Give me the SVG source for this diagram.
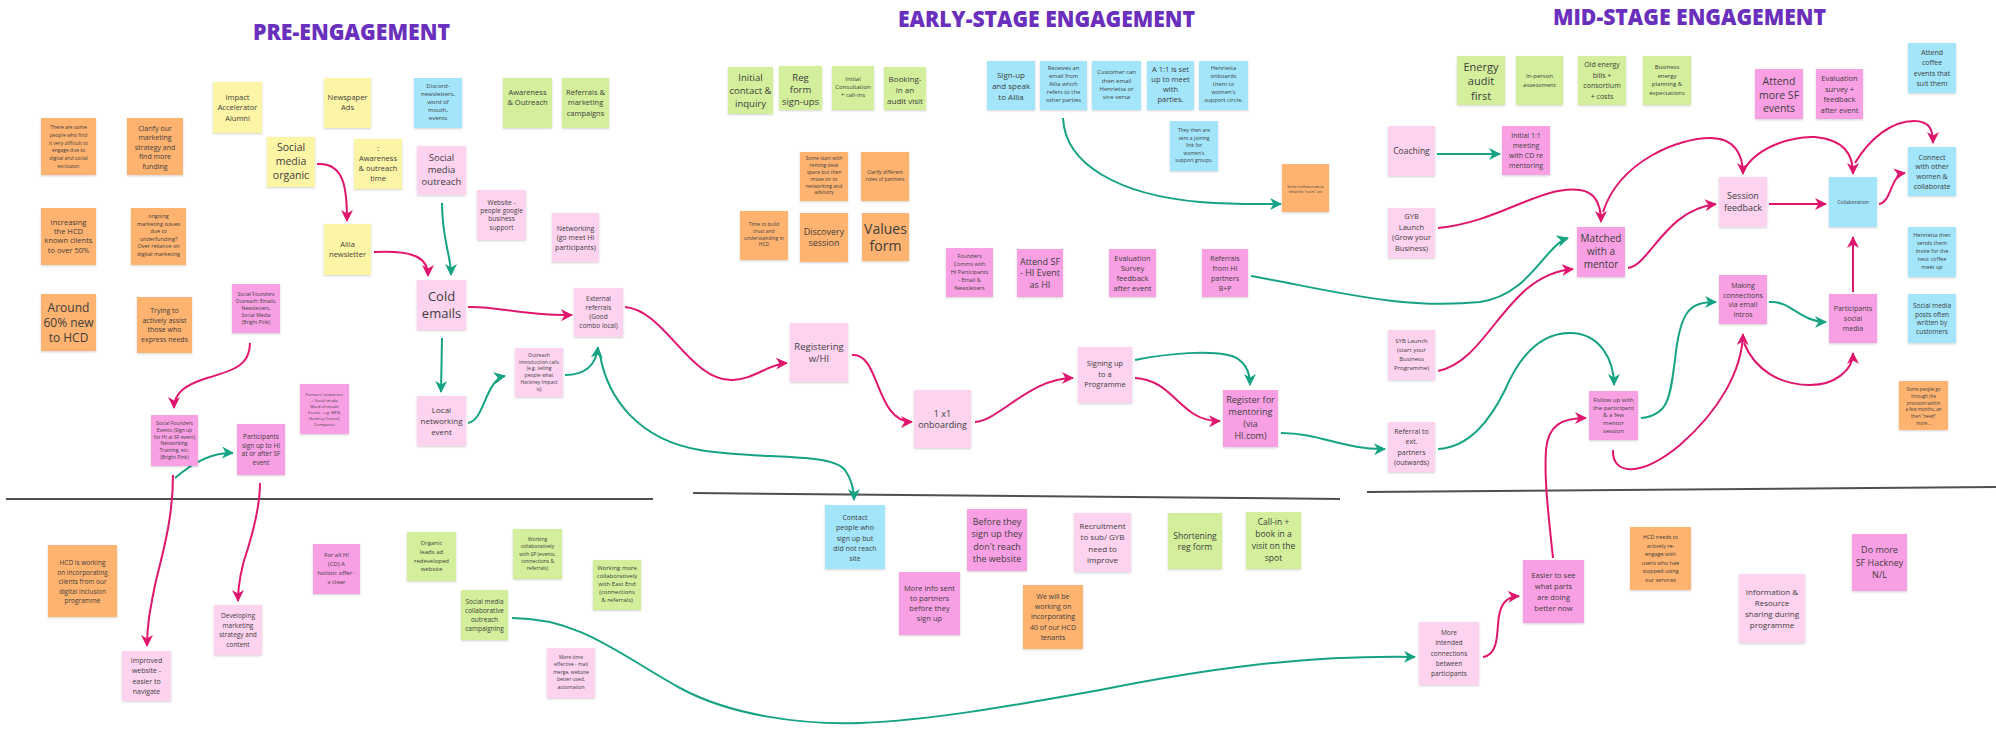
<svg xmlns="http://www.w3.org/2000/svg" width="1996" height="736" viewBox="0 0 1996 736">
<style>
  .yl{fill:#fdf5a6}.or{fill:#ffb36f}.gr{fill:#d3ef9b}.bl{fill:#a3e6fb}.lp{fill:#fdd3ef}.hp{fill:#f9a0e4}
  rect.n{filter:url(#sh)}
  .t{font-family:"Open Sans","Liberation Sans",sans-serif;fill:#3d3d3d;text-anchor:middle;dominant-baseline:central}
  .t tspan{dominant-baseline:central}
  .title{font-family:"Open Sans","Liberation Sans",sans-serif;font-weight:800;fill:#6a2fbc;font-size:23px}
  .cp{fill:none;stroke:#e0166e;stroke-width:2;marker-end:url(#ap)}
  .cg{fill:none;stroke:#16a383;stroke-width:2;marker-end:url(#ag)}
  .cgn{fill:none;stroke:#16a383;stroke-width:2}
  .div{stroke:#4f4f4f;stroke-width:2}
</style>
<defs>
  <filter id="sh" x="-10%" y="-10%" width="120%" height="130%">
    <feDropShadow dx="0" dy="1" stdDeviation="0.8" flood-color="#000" flood-opacity="0.18"/>
  </filter>
  <marker id="ap" viewBox="0 0 12 12" refX="11" refY="6" markerWidth="12" markerHeight="12" markerUnits="userSpaceOnUse" orient="auto">
    <path d="M0,0 L12,6 L0,12 L3.5,6 Z" fill="#e0166e"/>
  </marker>
  <marker id="ag" viewBox="0 0 12 12" refX="11" refY="6" markerWidth="12" markerHeight="12" markerUnits="userSpaceOnUse" orient="auto">
    <path d="M0,0 L12,6 L0,12 L3.5,6 Z" fill="#16a383"/>
  </marker>
</defs>
<rect width="1996" height="736" fill="#ffffff"/>

<!-- stage headings -->
<g id="headings">
  <text class="title" x="253" y="40" textLength="197" lengthAdjust="spacingAndGlyphs">PRE-ENGAGEMENT</text>
  <text class="title" x="898" y="27" textLength="297" lengthAdjust="spacingAndGlyphs">EARLY-STAGE ENGAGEMENT</text>
  <text class="title" x="1553" y="25" textLength="273" lengthAdjust="spacingAndGlyphs">MID-STAGE ENGAGEMENT</text>
</g>

<!-- dividers between journey and improvement areas -->
<g id="dividers">
  <line class="div" x1="6" y1="499" x2="653" y2="499"/>
  <line class="div" x1="693" y1="493" x2="1340" y2="499"/>
  <line class="div" x1="1367" y1="492" x2="1996" y2="487"/>
</g>

<!-- connectors -->
<g id="connectors">
  <path class="cp" d="M317,164 C345,162 347,190 347,221"/>
  <path class="cp" d="M374,252 C415,250 428,258 428,276"/>
  <path class="cp" d="M468,307 C500,306 520,316 572,315"/>
  <path class="cp" d="M625,307 C665,310 690,382 733,380 C755,379 768,364 787,363"/>
  <path class="cp" d="M852,355 C880,352 875,422 912,422"/>
  <path class="cp" d="M975,422 C1000,420 1030,378 1073,378"/>
  <path class="cp" d="M1135,378 C1175,380 1180,422 1220,421"/>
  <path class="cp" d="M1438,371 C1490,360 1505,275 1573,269"/>
  <path class="cp" d="M1438,228 C1500,222 1540,185 1580,190 C1595,192 1601,205 1601,222"/>
  <path class="cp" d="M1603,212 C1620,160 1680,138 1710,138 C1735,138 1743,155 1743,174"/>
  <path class="cp" d="M1745,168 C1760,145 1795,136 1815,137 C1845,140 1853,155 1853,174"/>
  <path class="cp" d="M1855,163 C1870,138 1892,121 1914,121 C1930,121 1933,130 1933,143"/>
  <path class="cp" d="M1769,204 L1826,204"/>
  <path class="cp" d="M1879,204 C1892,202 1890,175 1905,173"/>
  <path class="cp" d="M1628,268 C1650,265 1665,210 1716,204"/>
  <path class="cp" d="M1853,292 L1853,237"/>
  <path class="cp" d="M1613,450 C1612,475 1640,478 1680,445 C1720,410 1742,370 1743,334"/>
  <path class="cp" d="M1744,343 C1755,370 1780,385 1810,385 C1835,385 1853,370 1853,353"/>
  <path class="cp" d="M1553,558 C1549,520 1544,480 1546,450 C1548,425 1562,418 1586,418"/>
  <path class="cp" d="M1483,657 C1496,655 1497,640 1498,625 C1499,605 1505,597 1519,596"/>
  <path class="cp" d="M250,343 C250,365 235,370 207,378 C185,385 174,393 174,408"/>
  <path class="cp" d="M173,475 C173,520 162,555 155,585 C150,610 147,625 147,646"/>
  <path class="cp" d="M260,483 C260,505 255,525 248,548 C241,568 238,585 238,601"/>

  <path class="cg" d="M442,203 C442,240 451,255 451,275"/>
  <path class="cg" d="M442,338 L441,392"/>
  <path class="cg" d="M468,423 C485,420 485,380 505,376"/>
  <path class="cg" d="M565,375 C585,375 596,365 598,347"/>
  <path class="cg" d="M600,355 C608,400 640,440 700,450 C760,460 830,452 845,470 C852,480 854,490 854,500"/>
  <path class="cg" d="M1063,118 C1065,165 1120,195 1200,202 C1240,205 1260,204 1281,204"/>
  <path class="cg" d="M1437,154 L1500,154"/>
  <path class="cg" d="M1251,276 C1330,290 1400,310 1480,302 C1530,295 1545,245 1568,238"/>
  <path class="cg" d="M1135,360 C1170,353 1210,350 1232,356 C1248,362 1250,375 1250,385"/>
  <path class="cg" d="M1281,433 C1320,433 1345,450 1385,449"/>
  <path class="cg" d="M1438,449 C1470,447 1490,420 1505,390 C1520,355 1540,333 1570,333 C1600,333 1614,360 1614,385"/>
  <path class="cg" d="M1641,418 C1670,415 1670,395 1675,360 C1680,310 1690,302 1716,302"/>
  <path class="cg" d="M1769,302 C1790,300 1800,322 1826,322"/>
  <path class="cg" d="M175,478 C190,465 210,452 233,453"/>
  <path class="cg" d="M512,618 C580,618 620,655 680,688 C730,715 800,725 860,723 C930,720 1000,708 1100,690 C1200,670 1300,655 1415,657"/>
</g>

<!-- pre-engagement notes -->
<g id="n_exclusion"><rect class="n or" x="41" y="118" width="55" height="57"/><text class="t" font-size="5" y="127.3"><tspan x="68.5" dy="0">There are some</tspan><tspan x="68.5" dy="7.7">people who find</tspan><tspan x="68.5" dy="7.7">it very difficult to</tspan><tspan x="68.5" dy="7.7">engage due to</tspan><tspan x="68.5" dy="7.7">digital and social</tspan><tspan x="68.5" dy="7.7">exclusion</tspan></text></g>
<g id="n_clarify"><rect class="n or" x="127" y="118" width="56" height="57"/><text class="t" font-size="7" y="127.7"><tspan x="155" dy="0">Clarify our</tspan><tspan x="155" dy="9.5">marketing</tspan><tspan x="155" dy="9.5">strategy and</tspan><tspan x="155" dy="9.5">find more</tspan><tspan x="155" dy="9.5">funding</tspan></text></g>
<g id="n_impact"><rect class="n yl" x="213" y="82" width="49" height="51"/><text class="t" font-size="7.5" y="96.7"><tspan x="237.5" dy="0">Impact</tspan><tspan x="237.5" dy="10.4">Accelerator</tspan><tspan x="237.5" dy="10.4">Alumni</tspan></text></g>
<g id="n_newspaper"><rect class="n yl" x="324" y="78" width="47" height="50"/><text class="t" font-size="7.5" y="96.7"><tspan x="347.5" dy="0">Newspaper</tspan><tspan x="347.5" dy="10">Ads</tspan></text></g>
<g id="n_discord"><rect class="n bl" x="414" y="78" width="48" height="50"/><text class="t" font-size="6" y="86"><tspan x="438" dy="0">Discord-</tspan><tspan x="438" dy="8.1">newsletters,</tspan><tspan x="438" dy="8.1">word of</tspan><tspan x="438" dy="8.1">mouth,</tspan><tspan x="438" dy="8.1">events</tspan></text></g>
<g id="n_sm_organic"><rect class="n yl" x="267" y="137" width="48" height="50"/><text class="t" font-size="10.5" y="146.7"><tspan x="291" dy="0">Social</tspan><tspan x="291" dy="14">media</tspan><tspan x="291" dy="14">organic</tspan></text></g>
<g id="n_awareness_time"><rect class="n yl" x="354" y="139" width="48" height="50"/><text class="t" font-size="7.5" y="148"><tspan x="378" dy="0">:</tspan><tspan x="378" dy="10">Awareness</tspan><tspan x="378" dy="10">&amp; outreach</tspan><tspan x="378" dy="10">time</tspan></text></g>
<g id="n_sm_outreach"><rect class="n lp" x="417" y="146" width="49" height="49"/><text class="t" font-size="9.5" y="157.3"><tspan x="441.5" dy="0">Social</tspan><tspan x="441.5" dy="12">media</tspan><tspan x="441.5" dy="12">outreach</tspan></text></g>
<g id="n_website"><rect class="n lp" x="477" y="190" width="49" height="50"/><text class="t" font-size="6.5" y="201.7"><tspan x="501.5" dy="0">Website -</tspan><tspan x="501.5" dy="8.3">people google</tspan><tspan x="501.5" dy="8.3">business</tspan><tspan x="501.5" dy="8.3">support</tspan></text></g>
<g id="n_increasing"><rect class="n or" x="41" y="208" width="55" height="57"/><text class="t" font-size="7.5" y="221.7"><tspan x="68.5" dy="0">Increasing</tspan><tspan x="68.5" dy="9.3">the HCD</tspan><tspan x="68.5" dy="9.3">known clients</tspan><tspan x="68.5" dy="9.3">to over 50%</tspan></text></g>
<g id="n_ongoing"><rect class="n or" x="131" y="208" width="55" height="57"/><text class="t" font-size="5.5" y="216"><tspan x="158.5" dy="0">ongoing</tspan><tspan x="158.5" dy="7.6">marketing issues</tspan><tspan x="158.5" dy="7.6">due to</tspan><tspan x="158.5" dy="7.6">underfunding?</tspan><tspan x="158.5" dy="7.6">Over reliance on</tspan><tspan x="158.5" dy="7.6">digital marketing</tspan></text></g>
<g id="n_allia"><rect class="n yl" x="324" y="224" width="47" height="51"/><text class="t" font-size="7.5" y="244"><tspan x="347.5" dy="0">Allia</tspan><tspan x="347.5" dy="9.5">newsletter</tspan></text></g>
<g id="n_awareness_outreach"><rect class="n gr" x="503" y="78" width="49" height="50"/><text class="t" font-size="7.5" y="91.7"><tspan x="527.5" dy="0">Awareness</tspan><tspan x="527.5" dy="10">&amp; Outreach</tspan></text></g>
<g id="n_referrals_campaigns"><rect class="n gr" x="562" y="78" width="47" height="50"/><text class="t" font-size="7.5" y="91.7"><tspan x="585.5" dy="0">Referrals &amp;</tspan><tspan x="585.5" dy="10.5">marketing</tspan><tspan x="585.5" dy="10.5">campaigns</tspan></text></g>
<g id="n_networking"><rect class="n lp" x="552" y="213" width="47" height="49"/><text class="t" font-size="7" y="227.7"><tspan x="575.5" dy="0">Networking</tspan><tspan x="575.5" dy="9.5">(go meet HI</tspan><tspan x="575.5" dy="9.5">participants)</tspan></text></g>
<g id="n_around60"><rect class="n or" x="41" y="294" width="55" height="57"/><text class="t" font-size="12" y="307.3"><tspan x="68.5" dy="0">Around</tspan><tspan x="68.5" dy="15">60% new</tspan><tspan x="68.5" dy="15">to HCD</tspan></text></g>
<g id="n_trying"><rect class="n or" x="137" y="297" width="55" height="56"/><text class="t" font-size="7" y="310"><tspan x="164.5" dy="0">Trying to</tspan><tspan x="164.5" dy="9.6">actively assist</tspan><tspan x="164.5" dy="9.6">those who</tspan><tspan x="164.5" dy="9.6">express needs</tspan></text></g>
<g id="n_sf_outreach"><rect class="n hp" x="232" y="284" width="48" height="49"/><text class="t" font-size="5" y="294.3"><tspan x="256" dy="0">Social Founders</tspan><tspan x="256" dy="6.9">Outreach: Emails,</tspan><tspan x="256" dy="6.9">Newsletters,</tspan><tspan x="256" dy="6.9">Social Media</tspan><tspan x="256" dy="6.9">(Bright Pink)</tspan></text></g>
<g id="n_cold_emails"><rect class="n lp" x="417" y="280" width="49" height="50"/><text class="t" font-size="13" y="296"><tspan x="441.5" dy="0">Cold</tspan><tspan x="441.5" dy="17">emails</tspan></text></g>
<g id="n_sf_events"><rect class="n hp" x="151" y="415" width="47" height="51"/><text class="t" font-size="5" y="423.3"><tspan x="174.5" dy="0">Social Founders</tspan><tspan x="174.5" dy="6.7">Events (Sign up</tspan><tspan x="174.5" dy="6.7">for HI at SF event)</tspan><tspan x="174.5" dy="6.7">Networking,</tspan><tspan x="174.5" dy="6.7">Training, etc.</tspan><tspan x="174.5" dy="6.7">(Bright Pink)</tspan></text></g>
<g id="n_participants_signup"><rect class="n hp" x="237" y="424" width="48" height="51"/><text class="t" font-size="6.5" y="436"><tspan x="261" dy="0">Participants</tspan><tspan x="261" dy="8.7">sign up to HI</tspan><tspan x="261" dy="8.7">at or after SF</tspan><tspan x="261" dy="8.7">event</tspan></text></g>
<g id="n_partners_newsletter"><rect class="n hp" x="300" y="384" width="49" height="50"/><text class="t" font-size="4" y="394.3"><tspan x="324.5" dy="0">Partners' newsletter</tspan><tspan x="324.5" dy="6">+ Social media</tspan><tspan x="324.5" dy="6">Word of mouth</tspan><tspan x="324.5" dy="6">Events - e.g. WEN,</tspan><tspan x="324.5" dy="6">Hackney Council,</tspan><tspan x="324.5" dy="6">Companies</tspan></text></g>
<g id="n_local_networking"><rect class="n lp" x="417" y="396" width="49" height="50"/><text class="t" font-size="8" y="409.3"><tspan x="441.5" dy="0">Local</tspan><tspan x="441.5" dy="10.7">networking</tspan><tspan x="441.5" dy="10.7">event</tspan></text></g>
<g id="n_external_referrals"><rect class="n lp" x="574" y="288" width="49" height="49"/><text class="t" font-size="6.5" y="297.7"><tspan x="598.5" dy="0">External</tspan><tspan x="598.5" dy="9">referrals</tspan><tspan x="598.5" dy="9">(Good</tspan><tspan x="598.5" dy="9">combo local)</tspan></text></g>
<g id="n_outreach_calls"><rect class="n lp" x="515" y="348" width="48" height="49"/><text class="t" font-size="5" y="355"><tspan x="539" dy="0">Outreach</tspan><tspan x="539" dy="6.7">introduction calls</tspan><tspan x="539" dy="6.7">(e.g. telling</tspan><tspan x="539" dy="6.7">people what</tspan><tspan x="539" dy="6.7">Hackney Impact</tspan><tspan x="539" dy="6.7">is)</tspan></text></g>

<!-- pre-engagement improvements -->
<g id="n_hcd_working"><rect class="n or" x="48" y="545" width="69" height="72"/><text class="t" font-size="6.5" y="562"><tspan x="82.5" dy="0">HCD is working</tspan><tspan x="82.5" dy="9.5">on incorporating</tspan><tspan x="82.5" dy="9.5">clients from our</tspan><tspan x="82.5" dy="9.5">digital inclusion</tspan><tspan x="82.5" dy="9.5">programme</tspan></text></g>
<g id="n_improved_website"><rect class="n lp" x="122" y="651" width="49" height="50"/><text class="t" font-size="7" y="660"><tspan x="146.5" dy="0">Improved</tspan><tspan x="146.5" dy="10.3">website -</tspan><tspan x="146.5" dy="10.3">easier to</tspan><tspan x="146.5" dy="10.3">navigate</tspan></text></g>
<g id="n_developing"><rect class="n lp" x="214" y="605" width="48" height="50"/><text class="t" font-size="6.5" y="615.3"><tspan x="238" dy="0">Developing</tspan><tspan x="238" dy="9.5">marketing</tspan><tspan x="238" dy="9.5">strategy and</tspan><tspan x="238" dy="9.5">content</tspan></text></g>
<g id="n_for_all"><rect class="n hp" x="313" y="544" width="47" height="50"/><text class="t" font-size="6" y="555.3"><tspan x="336.5" dy="0">For all HI</tspan><tspan x="336.5" dy="8.8">(CD) A</tspan><tspan x="336.5" dy="8.8">holistic offer -</tspan><tspan x="336.5" dy="8.8">v clear</tspan></text></g>
<g id="n_organic_leads"><rect class="n gr" x="407" y="532" width="49" height="49"/><text class="t" font-size="6" y="543.3"><tspan x="431.5" dy="0">Organic</tspan><tspan x="431.5" dy="8.7">leads ad</tspan><tspan x="431.5" dy="8.7">redeveloped</tspan><tspan x="431.5" dy="8.7">website</tspan></text></g>
<g id="n_sm_collab"><rect class="n gr" x="461" y="590" width="47" height="50"/><text class="t" font-size="6.5" y="601"><tspan x="484.5" dy="0">Social media</tspan><tspan x="484.5" dy="9">collaborative</tspan><tspan x="484.5" dy="9">outreach</tspan><tspan x="484.5" dy="9">campaigning</tspan></text></g>
<g id="n_working_sp"><rect class="n gr" x="513" y="529" width="49" height="50"/><text class="t" font-size="5" y="538.7"><tspan x="537.5" dy="0">Working</tspan><tspan x="537.5" dy="7.4">collaboratively</tspan><tspan x="537.5" dy="7.4">with SP (events,</tspan><tspan x="537.5" dy="7.4">connections &amp;</tspan><tspan x="537.5" dy="7.4">referrals)</tspan></text></g>
<g id="n_working_ee"><rect class="n gr" x="593" y="560" width="48" height="50"/><text class="t" font-size="6" y="568"><tspan x="617" dy="0">Working more</tspan><tspan x="617" dy="8">collaboratively</tspan><tspan x="617" dy="8">with East End</tspan><tspan x="617" dy="8">(connections</tspan><tspan x="617" dy="8">&amp; referrals)</tspan></text></g>
<g id="n_time_effective"><rect class="n lp" x="547" y="648" width="48" height="50"/><text class="t" font-size="5" y="656.7"><tspan x="571" dy="0">More time</tspan><tspan x="571" dy="7.5">effective - mail</tspan><tspan x="571" dy="7.5">merge, website</tspan><tspan x="571" dy="7.5">better used,</tspan><tspan x="571" dy="7.5">automation</tspan></text></g>

<!-- early-stage notes -->
<g id="n_initial_contact"><rect class="n gr" x="728" y="67" width="45" height="47"/><text class="t" font-size="9.5" y="77.3"><tspan x="750.5" dy="0">Initial</tspan><tspan x="750.5" dy="12.7">contact &amp;</tspan><tspan x="750.5" dy="12.7">inquiry</tspan></text></g>
<g id="n_reg_form"><rect class="n gr" x="779" y="66" width="43" height="44"/><text class="t" font-size="9.5" y="76.7"><tspan x="800.5" dy="0">Reg</tspan><tspan x="800.5" dy="12.3">form</tspan><tspan x="800.5" dy="12.3">sign-ups</tspan></text></g>
<g id="n_initial_consult"><rect class="n gr" x="832" y="66" width="42" height="44"/><text class="t" font-size="6" y="79.3"><tspan x="853" dy="0">Initial</tspan><tspan x="853" dy="8">Consultation</tspan><tspan x="853" dy="8">+ call-ins</tspan></text></g>
<g id="n_booking"><rect class="n gr" x="884" y="67" width="42" height="43"/><text class="t" font-size="8" y="78.3"><tspan x="905" dy="0">Booking-</tspan><tspan x="905" dy="10.7">in an</tspan><tspan x="905" dy="10.7">audit visit</tspan></text></g>
<g id="n_some_start"><rect class="n or" x="800" y="152" width="48" height="49"/><text class="t" font-size="5" y="158.3"><tspan x="824" dy="0">Some start with</tspan><tspan x="824" dy="6.8">renting desk</tspan><tspan x="824" dy="6.8">space but then</tspan><tspan x="824" dy="6.8">move on to</tspan><tspan x="824" dy="6.8">networking and</tspan><tspan x="824" dy="6.8">advisory</tspan></text></g>
<g id="n_clarify_roles"><rect class="n or" x="861" y="152" width="48" height="49"/><text class="t" font-size="5" y="172.3"><tspan x="885" dy="0">Clarify different</tspan><tspan x="885" dy="6.7">roles of partners</tspan></text></g>
<g id="n_time_trust"><rect class="n or" x="740" y="211" width="48" height="49"/><text class="t" font-size="5" y="224.3"><tspan x="764" dy="0">Time to build</tspan><tspan x="764" dy="6.7">trust and</tspan><tspan x="764" dy="6.7">understanding in</tspan><tspan x="764" dy="6.7">HCD</tspan></text></g>
<g id="n_discovery"><rect class="n or" x="800" y="213" width="48" height="49"/><text class="t" font-size="9" y="231"><tspan x="824" dy="0">Discovery</tspan><tspan x="824" dy="11.3">session</tspan></text></g>
<g id="n_values"><rect class="n or" x="862" y="213" width="47" height="48"/><text class="t" font-size="14" y="227.7"><tspan x="885.5" dy="0">Values</tspan><tspan x="885.5" dy="17">form</tspan></text></g>
<g id="n_signup_allia"><rect class="n bl" x="987" y="61" width="48" height="49"/><text class="t" font-size="8" y="74"><tspan x="1011" dy="0">Sign-up</tspan><tspan x="1011" dy="10.8">and speak</tspan><tspan x="1011" dy="10.8">to Allia</tspan></text></g>
<g id="n_receives_email"><rect class="n bl" x="1040" y="61" width="47" height="49"/><text class="t" font-size="5.8" y="68.3"><tspan x="1063.5" dy="0">Receives an</tspan><tspan x="1063.5" dy="8">email from</tspan><tspan x="1063.5" dy="8">Allia which</tspan><tspan x="1063.5" dy="8">refers to the</tspan><tspan x="1063.5" dy="8">other parties</tspan></text></g>
<g id="n_customer_email"><rect class="n bl" x="1092" y="61" width="49" height="49"/><text class="t" font-size="6" y="72.3"><tspan x="1116.5" dy="0">Customer can</tspan><tspan x="1116.5" dy="8.3">then email</tspan><tspan x="1116.5" dy="8.3">Henrietta or</tspan><tspan x="1116.5" dy="8.3">vice versa</tspan></text></g>
<g id="n_one_to_one"><rect class="n bl" x="1147" y="61" width="47" height="49"/><text class="t" font-size="7.5" y="69.3"><tspan x="1170.5" dy="0">A 1:1 is set</tspan><tspan x="1170.5" dy="10">up to meet</tspan><tspan x="1170.5" dy="10">with</tspan><tspan x="1170.5" dy="10">parties.</tspan></text></g>
<g id="n_henrietta_onboards"><rect class="n bl" x="1199" y="61" width="49" height="49"/><text class="t" font-size="5.8" y="68.3"><tspan x="1223.5" dy="0">Henrietta</tspan><tspan x="1223.5" dy="8">onboards</tspan><tspan x="1223.5" dy="8">them to</tspan><tspan x="1223.5" dy="8">women's</tspan><tspan x="1223.5" dy="8">support circle.</tspan></text></g>
<g id="n_joining_link"><rect class="n bl" x="1170" y="121" width="48" height="50"/><text class="t" font-size="5" y="130"><tspan x="1194" dy="0">They then are</tspan><tspan x="1194" dy="7.5">sent a joining</tspan><tspan x="1194" dy="7.5">link for</tspan><tspan x="1194" dy="7.5">women's</tspan><tspan x="1194" dy="7.5">support groups.</tspan></text></g>
<g id="n_confusion"><rect class="n or" x="1282" y="164" width="47" height="48"/><text class="t" font-size="3.5" y="185.5"><tspan x="1305.5" dy="0">Some confusion about</tspan><tspan x="1305.5" dy="5">what the "room" are</tspan></text></g>
<g id="n_founders_comms"><rect class="n hp" x="946" y="248" width="47" height="49"/><text class="t" font-size="5.5" y="255.7"><tspan x="969.5" dy="0">Founders</tspan><tspan x="969.5" dy="8">Comms with</tspan><tspan x="969.5" dy="8">HI Participants</tspan><tspan x="969.5" dy="8">- Email &amp;</tspan><tspan x="969.5" dy="8">Newsletters</tspan></text></g>
<g id="n_registering"><rect class="n lp" x="790" y="323" width="58" height="59"/><text class="t" font-size="9.5" y="345.7"><tspan x="819" dy="0">Registering</tspan><tspan x="819" dy="12.7">w/HI</tspan></text></g>
<g id="n_onboarding"><rect class="n lp" x="914" y="390" width="57" height="58"/><text class="t" font-size="9" y="412.7"><tspan x="942.5" dy="0">1 x1</tspan><tspan x="942.5" dy="11.3">onboarding</tspan></text></g>
<g id="n_attend_sf_hi"><rect class="n hp" x="1017" y="249" width="46" height="48"/><text class="t" font-size="9" y="260.7"><tspan x="1040" dy="0">Attend SF</tspan><tspan x="1040" dy="11.7">- HI Event</tspan><tspan x="1040" dy="11.7">as HI</tspan></text></g>
<g id="n_eval_survey_early"><rect class="n hp" x="1109" y="249" width="47" height="48"/><text class="t" font-size="7.5" y="257.7"><tspan x="1132.5" dy="0">Evaluation</tspan><tspan x="1132.5" dy="10">Survey</tspan><tspan x="1132.5" dy="10">feedback</tspan><tspan x="1132.5" dy="10">after event</tspan></text></g>
<g id="n_referrals_hi"><rect class="n hp" x="1202" y="249" width="46" height="48"/><text class="t" font-size="7" y="257.7"><tspan x="1225" dy="0">Referrals</tspan><tspan x="1225" dy="10">from HI</tspan><tspan x="1225" dy="10">partners</tspan><tspan x="1225" dy="10">B+P</tspan></text></g>
<g id="n_signing_up"><rect class="n lp" x="1078" y="347" width="54" height="56"/><text class="t" font-size="7.5" y="363.3"><tspan x="1105" dy="0">Signing up</tspan><tspan x="1105" dy="10.5">to a</tspan><tspan x="1105" dy="10.5">Programme</tspan></text></g>
<g id="n_register_mentoring"><rect class="n hp" x="1223" y="390" width="55" height="57"/><text class="t" font-size="9" y="399"><tspan x="1250.5" dy="0">Register for</tspan><tspan x="1250.5" dy="12">mentoring</tspan><tspan x="1250.5" dy="12">(via</tspan><tspan x="1250.5" dy="12">HI.com)</tspan></text></g>

<!-- early-stage improvements -->
<g id="n_contact_people"><rect class="n bl" x="825" y="505" width="60" height="64"/><text class="t" font-size="7" y="516.7"><tspan x="855" dy="0">Contact</tspan><tspan x="855" dy="10.4">people who</tspan><tspan x="855" dy="10.4">sign up but</tspan><tspan x="855" dy="10.4">did not reach</tspan><tspan x="855" dy="10.4">site</tspan></text></g>
<g id="n_more_info"><rect class="n hp" x="899" y="572" width="61" height="63"/><text class="t" font-size="7.5" y="587.7"><tspan x="929.5" dy="0">More info sent</tspan><tspan x="929.5" dy="10">to partners</tspan><tspan x="929.5" dy="10">before they</tspan><tspan x="929.5" dy="10">sign up</tspan></text></g>
<g id="n_before_they"><rect class="n hp" x="967" y="509" width="60" height="62"/><text class="t" font-size="9" y="521"><tspan x="997" dy="0">Before they</tspan><tspan x="997" dy="12.3">sign up they</tspan><tspan x="997" dy="12.3">don't reach</tspan><tspan x="997" dy="12.3">the website</tspan></text></g>
<g id="n_recruitment"><rect class="n lp" x="1074" y="513" width="57" height="59"/><text class="t" font-size="8" y="525"><tspan x="1102.5" dy="0">Recruitment</tspan><tspan x="1102.5" dy="11.3">to sub/ GYB</tspan><tspan x="1102.5" dy="11.3">need to</tspan><tspan x="1102.5" dy="11.3">improve</tspan></text></g>
<g id="n_shortening"><rect class="n gr" x="1168" y="513" width="54" height="56"/><text class="t" font-size="8.5" y="535"><tspan x="1195" dy="0">Shortening</tspan><tspan x="1195" dy="11">reg form</tspan></text></g>
<g id="n_call_in"><rect class="n gr" x="1246" y="512" width="55" height="57"/><text class="t" font-size="8.5" y="521"><tspan x="1273.5" dy="0">Call-in +</tspan><tspan x="1273.5" dy="12">book in a</tspan><tspan x="1273.5" dy="12">visit on the</tspan><tspan x="1273.5" dy="12">spot</tspan></text></g>
<g id="n_we_will"><rect class="n or" x="1023" y="585" width="60" height="64"/><text class="t" font-size="7" y="596"><tspan x="1053" dy="0">We will be</tspan><tspan x="1053" dy="10.2">working on</tspan><tspan x="1053" dy="10.2">incorporating</tspan><tspan x="1053" dy="10.2">40 of our HCD</tspan><tspan x="1053" dy="10.2">tenants</tspan></text></g>

<!-- mid-stage notes -->
<g id="n_energy_audit"><rect class="n gr" x="1457" y="56" width="48" height="49"/><text class="t" font-size="11" y="65.7"><tspan x="1481" dy="0">Energy</tspan><tspan x="1481" dy="14.7">audit</tspan><tspan x="1481" dy="14.7">first</tspan></text></g>
<g id="n_in_person"><rect class="n gr" x="1516" y="56" width="47" height="49"/><text class="t" font-size="6" y="76"><tspan x="1539.5" dy="0">In-person</tspan><tspan x="1539.5" dy="8.7">assessment</tspan></text></g>
<g id="n_old_energy"><rect class="n gr" x="1578" y="56" width="48" height="49"/><text class="t" font-size="7" y="64.3"><tspan x="1602" dy="0">Old energy</tspan><tspan x="1602" dy="10.5">bills +</tspan><tspan x="1602" dy="10.5">consortium</tspan><tspan x="1602" dy="10.5">+ costs</tspan></text></g>
<g id="n_business_energy"><rect class="n gr" x="1643" y="56" width="48" height="49"/><text class="t" font-size="6" y="66.7"><tspan x="1667" dy="0">Business</tspan><tspan x="1667" dy="8.8">energy</tspan><tspan x="1667" dy="8.8">planning &amp;</tspan><tspan x="1667" dy="8.8">expectations</tspan></text></g>
<g id="n_attend_more_sf"><rect class="n hp" x="1755" y="69" width="48" height="50"/><text class="t" font-size="10.5" y="81"><tspan x="1779" dy="0">Attend</tspan><tspan x="1779" dy="13.7">more SF</tspan><tspan x="1779" dy="13.7">events</tspan></text></g>
<g id="n_eval_survey_mid"><rect class="n hp" x="1816" y="69" width="47" height="50"/><text class="t" font-size="7.5" y="78"><tspan x="1839.5" dy="0">Evaluation</tspan><tspan x="1839.5" dy="10.5">survey +</tspan><tspan x="1839.5" dy="10.5">feedback</tspan><tspan x="1839.5" dy="10.5">after event</tspan></text></g>
<g id="n_coffee_events"><rect class="n bl" x="1908" y="43" width="48" height="50"/><text class="t" font-size="7" y="52"><tspan x="1932" dy="0">Attend</tspan><tspan x="1932" dy="10.3">coffee</tspan><tspan x="1932" dy="10.3">events that</tspan><tspan x="1932" dy="10.3">suit them</tspan></text></g>
<g id="n_coaching"><rect class="n lp" x="1388" y="126" width="47" height="50"/><text class="t" font-size="8.5" x="1411.5" y="150">Coaching</text></g>
<g id="n_initial_meeting"><rect class="n hp" x="1502" y="126" width="48" height="49"/><text class="t" font-size="7" y="135"><tspan x="1526" dy="0">Initial 1:1</tspan><tspan x="1526" dy="9.9">meeting</tspan><tspan x="1526" dy="9.9">with CD re</tspan><tspan x="1526" dy="9.9">mentoring</tspan></text></g>
<g id="n_gyb_launch"><rect class="n lp" x="1388" y="208" width="47" height="50"/><text class="t" font-size="7.5" y="216"><tspan x="1411.5" dy="0">GYB</tspan><tspan x="1411.5" dy="10.5">Launch</tspan><tspan x="1411.5" dy="10.5">(Grow your</tspan><tspan x="1411.5" dy="10.5">Business)</tspan></text></g>
<g id="n_matched"><rect class="n hp" x="1577" y="227" width="48" height="50"/><text class="t" font-size="10" y="238"><tspan x="1601" dy="0">Matched</tspan><tspan x="1601" dy="13">with a</tspan><tspan x="1601" dy="13">mentor</tspan></text></g>
<g id="n_session_feedback"><rect class="n lp" x="1719" y="177" width="48" height="50"/><text class="t" font-size="9" y="195"><tspan x="1743" dy="0">Session</tspan><tspan x="1743" dy="12.3">feedback</tspan></text></g>
<g id="n_collaboration"><rect class="n bl" x="1829" y="177" width="48" height="50"/><text class="t" font-size="5" x="1853" y="201.7">Collaboration</text></g>
<g id="n_connect"><rect class="n bl" x="1908" y="147" width="48" height="49"/><text class="t" font-size="7" y="156.7"><tspan x="1932" dy="0">Connect</tspan><tspan x="1932" dy="9.6">with other</tspan><tspan x="1932" dy="9.6">women &amp;</tspan><tspan x="1932" dy="9.6">collaborate</tspan></text></g>
<g id="n_henrietta_sends"><rect class="n bl" x="1908" y="227" width="48" height="50"/><text class="t" font-size="5.5" y="235"><tspan x="1932" dy="0">Henrietta then</tspan><tspan x="1932" dy="8">sends them</tspan><tspan x="1932" dy="8">invite for the</tspan><tspan x="1932" dy="8">next coffee</tspan><tspan x="1932" dy="8">meet up</tspan></text></g>
<g id="n_syb_launch"><rect class="n lp" x="1388" y="330" width="47" height="50"/><text class="t" font-size="6" y="341"><tspan x="1411.5" dy="0">SYB Launch</tspan><tspan x="1411.5" dy="8.9">(start your</tspan><tspan x="1411.5" dy="8.9">Business</tspan><tspan x="1411.5" dy="8.9">Programme)</tspan></text></g>
<g id="n_referral_ext"><rect class="n lp" x="1388" y="422" width="47" height="50"/><text class="t" font-size="7" y="430.7"><tspan x="1411.5" dy="0">Referral to</tspan><tspan x="1411.5" dy="10.5">ext.</tspan><tspan x="1411.5" dy="10.5">partners</tspan><tspan x="1411.5" dy="10.5">(outwards)</tspan></text></g>
<g id="n_follow_up"><rect class="n hp" x="1589" y="391" width="49" height="49"/><text class="t" font-size="6" y="400"><tspan x="1613.5" dy="0">Follow up with</tspan><tspan x="1613.5" dy="7.7">the participant</tspan><tspan x="1613.5" dy="7.7">&amp; a few</tspan><tspan x="1613.5" dy="7.7">mentor</tspan><tspan x="1613.5" dy="7.7">session</tspan></text></g>
<g id="n_making_connections"><rect class="n hp" x="1719" y="275" width="48" height="49"/><text class="t" font-size="7" y="285"><tspan x="1743" dy="0">Making</tspan><tspan x="1743" dy="9.7">connections</tspan><tspan x="1743" dy="9.7">via email</tspan><tspan x="1743" dy="9.7">intros</tspan></text></g>
<g id="n_participants_sm"><rect class="n hp" x="1829" y="294" width="48" height="49"/><text class="t" font-size="7" y="308.3"><tspan x="1853" dy="0">Participants</tspan><tspan x="1853" dy="10">social</tspan><tspan x="1853" dy="10">media</tspan></text></g>
<g id="n_sm_posts"><rect class="n bl" x="1908" y="294" width="48" height="49"/><text class="t" font-size="6.5" y="305.3"><tspan x="1932" dy="0">Social media</tspan><tspan x="1932" dy="8.5">posts often</tspan><tspan x="1932" dy="8.5">written by</tspan><tspan x="1932" dy="8.5">customers</tspan></text></g>
<g id="n_some_people"><rect class="n or" x="1899" y="381" width="49" height="49"/><text class="t" font-size="4.5" y="389"><tspan x="1923.5" dy="0">Some people go</tspan><tspan x="1923.5" dy="6.8">through the</tspan><tspan x="1923.5" dy="6.8">provision within</tspan><tspan x="1923.5" dy="6.8">a few months, an</tspan><tspan x="1923.5" dy="6.8">then "need"</tspan><tspan x="1923.5" dy="6.8">more...</tspan></text></g>

<!-- mid-stage improvements -->
<g id="n_more_intended"><rect class="n lp" x="1419" y="622" width="60" height="63"/><text class="t" font-size="6.5" y="632"><tspan x="1449" dy="0">More</tspan><tspan x="1449" dy="10.3">intended</tspan><tspan x="1449" dy="10.3">connections</tspan><tspan x="1449" dy="10.3">between</tspan><tspan x="1449" dy="10.3">participants</tspan></text></g>
<g id="n_easier"><rect class="n hp" x="1523" y="560" width="61" height="63"/><text class="t" font-size="7.5" y="575.3"><tspan x="1553.5" dy="0">Easier to see</tspan><tspan x="1553.5" dy="11">what parts</tspan><tspan x="1553.5" dy="11">are doing</tspan><tspan x="1553.5" dy="11">better now</tspan></text></g>
<g id="n_hcd_needs"><rect class="n or" x="1630" y="527" width="61" height="63"/><text class="t" font-size="5.5" y="537"><tspan x="1660.5" dy="0">HCD needs to</tspan><tspan x="1660.5" dy="8.5">actively re-</tspan><tspan x="1660.5" dy="8.5">engage with</tspan><tspan x="1660.5" dy="8.5">users who hae</tspan><tspan x="1660.5" dy="8.5">stopped using</tspan><tspan x="1660.5" dy="8.5">our services</tspan></text></g>
<g id="n_info_resource"><rect class="n lp" x="1739" y="574" width="66" height="69"/><text class="t" font-size="8" y="591.3"><tspan x="1772" dy="0">Information &amp;</tspan><tspan x="1772" dy="11">Resource</tspan><tspan x="1772" dy="11">sharing during</tspan><tspan x="1772" dy="11">programme</tspan></text></g>
<g id="n_do_more"><rect class="n hp" x="1852" y="534" width="55" height="57"/><text class="t" font-size="9" y="549.3"><tspan x="1879.5" dy="0">Do more</tspan><tspan x="1879.5" dy="12.2">SF Hackney</tspan><tspan x="1879.5" dy="12.2">N/L</tspan></text></g>
</svg>
